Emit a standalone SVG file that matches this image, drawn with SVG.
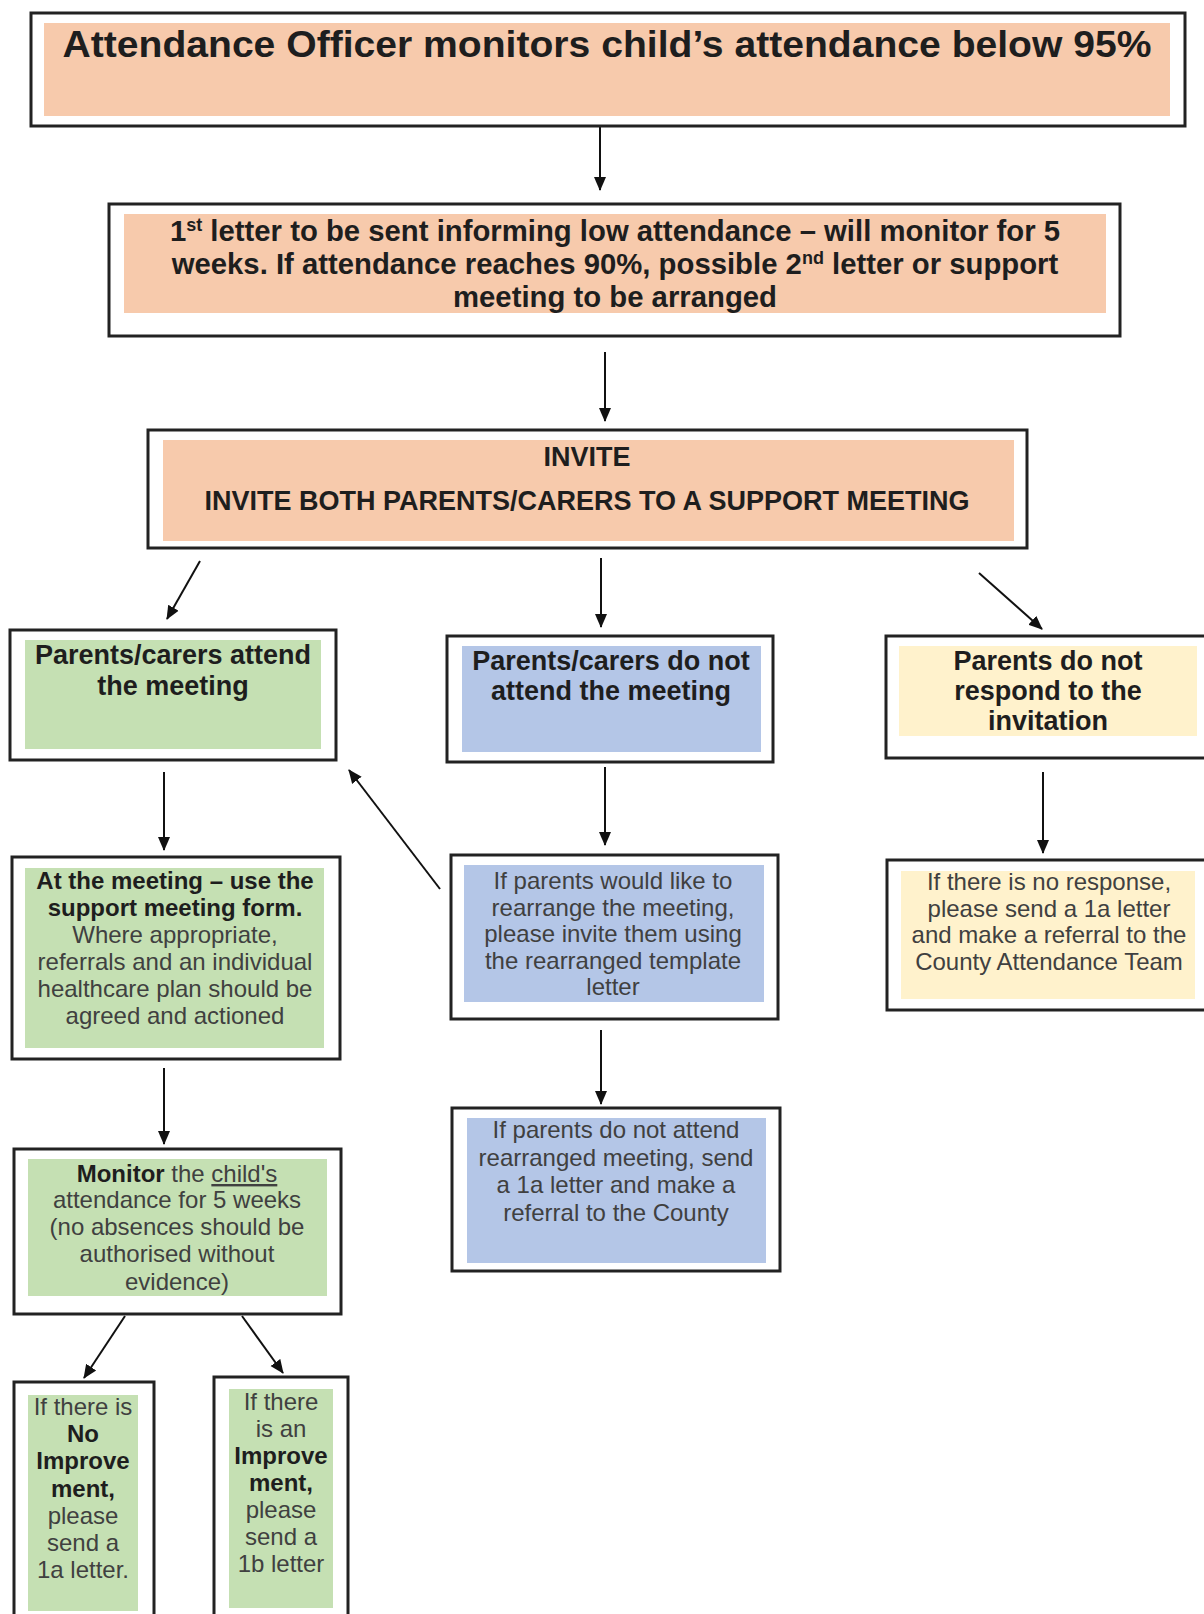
<svg xmlns="http://www.w3.org/2000/svg" width="1204" height="1614" viewBox="0 0 1204 1614">
<style>
.outer{fill:#ffffff;stroke:#222222;stroke-width:3}
.peach{fill:#F7CAAC}
.green{fill:#C5E0B3}
.blue{fill:#B4C6E7}
.gold{fill:#FFF2CC}
text{font-family:"Liberation Sans",Arial,sans-serif;text-anchor:middle}
.b{font-weight:bold;fill:#1e1e1e}
.r{fill:#404040}
.conn{stroke:#111111;stroke-width:2;fill:none;marker-end:url(#ah)}
</style>
<defs>
<marker id="ah" markerUnits="userSpaceOnUse" markerWidth="14" markerHeight="14" viewBox="0 0 14 14" refX="13" refY="7" orient="auto">
<path d="M0,1 L14,7 L0,13 Z" fill="#111111"/>
</marker>
</defs>
<rect width="1204" height="1614" fill="#ffffff"/>

<g id="connectors">
<line class="conn" x1="600" y1="126" x2="600" y2="190"/>
<line class="conn" x1="605" y1="352" x2="605" y2="421"/>
<line class="conn" x1="200" y1="561" x2="167" y2="619"/>
<line class="conn" x1="601" y1="558" x2="601" y2="627"/>
<line class="conn" x1="979" y1="573" x2="1042" y2="629"/>
<line class="conn" x1="164" y1="772" x2="164" y2="850"/>
<line class="conn" x1="440" y1="889" x2="349" y2="770"/>
<line class="conn" x1="605" y1="767" x2="605" y2="845"/>
<line class="conn" x1="1043" y1="772" x2="1043" y2="853"/>
<line class="conn" x1="164" y1="1068" x2="164" y2="1144"/>
<line class="conn" x1="601" y1="1030" x2="601" y2="1104"/>
<line class="conn" x1="125" y1="1316" x2="84" y2="1378"/>
<line class="conn" x1="242" y1="1316" x2="283" y2="1373"/>
</g>

<g id="n-monitor">
<rect class="outer" x="31" y="13" width="1154" height="113"/>
<rect class="peach" x="44" y="23" width="1126" height="93"/>
<text class="b" x="607" y="57" font-size="37" textLength="1089" lengthAdjust="spacingAndGlyphs">Attendance Officer monitors child’s attendance below 95%</text>
</g>

<g id="n-first-letter">
<rect class="outer" x="109" y="204" width="1011" height="132"/>
<rect class="peach" x="124" y="214" width="982" height="99"/>
<text class="b" x="615" y="241" font-size="29.3">1<tspan dy="-10" font-size="18">st</tspan><tspan dy="10"> letter to be sent informing low attendance – will monitor for 5</tspan></text>
<text class="b" x="615" y="274" font-size="29.3">weeks. If attendance reaches 90%, possible 2<tspan dy="-10" font-size="18">nd</tspan><tspan dy="10"> letter or support</tspan></text>
<text class="b" x="615" y="307" font-size="29.3">meeting to be arranged</text>
</g>

<g id="n-invite">
<rect class="outer" x="148" y="430" width="879" height="118"/>
<rect class="peach" x="163" y="440" width="851" height="101"/>
<text class="b" x="587" y="466" font-size="27">INVITE</text>
<text class="b" x="587" y="510" font-size="27">INVITE BOTH PARENTS/CARERS TO A SUPPORT MEETING</text>
</g>

<g id="n-attend">
<rect class="outer" x="10" y="630" width="326" height="130"/>
<rect class="green" x="25" y="640" width="296" height="109"/>
<text class="b" x="173" y="664" font-size="27">Parents/carers attend</text>
<text class="b" x="173" y="695" font-size="27">the meeting</text>
</g>

<g id="n-not-attend">
<rect class="outer" x="447" y="636" width="326" height="126"/>
<rect class="blue" x="462" y="646" width="299" height="106"/>
<text class="b" x="611" y="670" font-size="27">Parents/carers do not</text>
<text class="b" x="611" y="700" font-size="27">attend the meeting</text>
</g>

<g id="n-no-response">
<rect class="outer" x="886" y="636" width="330" height="122"/>
<rect class="gold" x="899" y="646" width="298" height="90"/>
<text class="b" x="1048" y="670" font-size="27">Parents do not</text>
<text class="b" x="1048" y="700" font-size="27">respond to the</text>
<text class="b" x="1048" y="730" font-size="27">invitation</text>
</g>

<g id="n-at-meeting">
<rect class="outer" x="12" y="857" width="328" height="202"/>
<rect class="green" x="25" y="868" width="299" height="180"/>
<text class="b" x="175" y="889" font-size="24">At the meeting – use the</text>
<text class="b" x="175" y="916" font-size="24">support meeting form.</text>
<text class="r" x="175" y="943" font-size="24">Where appropriate,</text>
<text class="r" x="175" y="970" font-size="24">referrals and an individual</text>
<text class="r" x="175" y="997" font-size="24">healthcare plan should be</text>
<text class="r" x="175" y="1024" font-size="24">agreed and actioned</text>
</g>

<g id="n-rearrange">
<rect class="outer" x="451" y="855" width="327" height="164"/>
<rect class="blue" x="464" y="865" width="300" height="137"/>
<text class="r" x="613" y="889" font-size="24">If parents would like to</text>
<text class="r" x="613" y="916" font-size="24">rearrange the meeting,</text>
<text class="r" x="613" y="942" font-size="24">please invite them using</text>
<text class="r" x="613" y="969" font-size="24">the rearranged template</text>
<text class="r" x="613" y="995" font-size="24">letter</text>
</g>

<g id="n-no-response-letter">
<rect class="outer" x="887" y="860" width="330" height="150"/>
<rect class="gold" x="901" y="871" width="294" height="128"/>
<text class="r" x="1049" y="890" font-size="24">If there is no response,</text>
<text class="r" x="1049" y="917" font-size="24">please send a 1a letter</text>
<text class="r" x="1049" y="943" font-size="24">and make a referral to the</text>
<text class="r" x="1049" y="970" font-size="24">County Attendance Team</text>
</g>

<g id="n-not-attend-rearranged">
<rect class="outer" x="452" y="1108" width="328" height="163"/>
<rect class="blue" x="467" y="1118" width="299" height="145"/>
<text class="r" x="616" y="1138" font-size="24">If parents do not attend</text>
<text class="r" x="616" y="1166" font-size="24">rearranged meeting, send</text>
<text class="r" x="616" y="1193" font-size="24">a 1a letter and make a</text>
<text class="r" x="616" y="1221" font-size="24">referral to the County</text>
</g>

<g id="n-monitor-5-weeks">
<rect class="outer" x="14" y="1149" width="327" height="165"/>
<rect class="green" x="28" y="1159" width="299" height="137"/>
<text class="r" x="177" y="1182" font-size="24"><tspan class="b">Monitor</tspan> the <tspan text-decoration="underline">child's</tspan></text>
<text class="r" x="177" y="1208" font-size="24">attendance for 5 weeks</text>
<text class="r" x="177" y="1235" font-size="24">(no absences should be</text>
<text class="r" x="177" y="1262" font-size="24">authorised without</text>
<text class="r" x="177" y="1290" font-size="24">evidence)</text>
</g>

<g id="n-no-improvement">
<rect class="outer" x="14" y="1382" width="140" height="250"/>
<rect class="green" x="28" y="1395" width="110" height="216"/>
<text class="r" x="83" y="1415" font-size="24">If there is</text>
<text class="b" x="83" y="1442" font-size="24">No</text>
<text class="b" x="83" y="1469" font-size="24">Improve</text>
<text class="b" x="83" y="1497" font-size="24">ment,</text>
<text class="r" x="83" y="1524" font-size="24">please</text>
<text class="r" x="83" y="1551" font-size="24">send a</text>
<text class="r" x="83" y="1578" font-size="24">1a letter.</text>
</g>

<g id="n-improvement">
<rect class="outer" x="214" y="1377" width="134" height="255"/>
<rect class="green" x="229" y="1389" width="104" height="219"/>
<text class="r" x="281" y="1410" font-size="24">If there</text>
<text class="r" x="281" y="1437" font-size="24">is an</text>
<text class="b" x="281" y="1464" font-size="24">Improve</text>
<text class="b" x="281" y="1491" font-size="24">ment,</text>
<text class="r" x="281" y="1518" font-size="24">please</text>
<text class="r" x="281" y="1545" font-size="24">send a</text>
<text class="r" x="281" y="1572" font-size="24">1b letter</text>
</g>
</svg>
